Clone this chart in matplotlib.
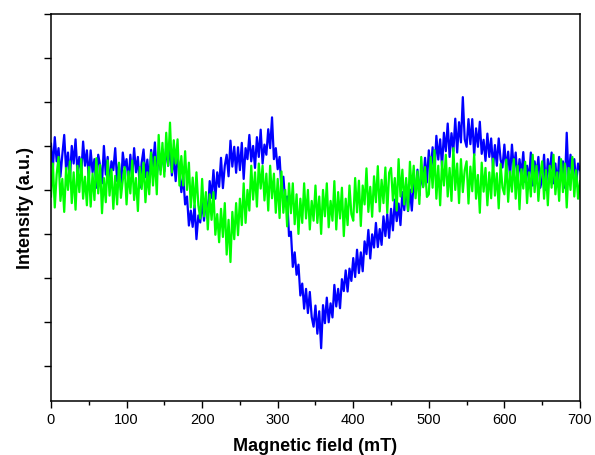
import numpy as np
import matplotlib.pyplot as plt

plt.rcParams['font.family'] = ['Liberation Sans', 'DejaVu Sans']

# field axis, 0..700 mT every 2.5 mT
field = np.arange(0, 700.1, 2.5)

# intensities (a.u., one y tick = 100)
blue = [
    105, 50, 120, 65, 95, 30, 80, 125, 45, 85, 25, 100, 60, 115, 40, 75, 35, 110, 55, 90,
    25, 90, 40, 70, 5, 80, 55, 15, 100, 35, 75, 10, 65, 45, 95, 20, 60, 0, 85, 50,
    70, 15, 80, 30, 95, 40, 75, 5, 62, 92, 29, 69, 16, 91, 53, 108, 30, 80, 45, 92,
    42, 99, 55, 105, 33, 77, 20, 75, 45, -5, 30, -33, -15, -81, -47, -84, -35, -112, -58, -74,
    -25, -70, -20, -65, 20, -18, 45, -20, 40, 7, 73, 4, 55, 80, 31, 112, 53, 98, 39, 97,
    45, 107, 25, 95, 70, 125, 65, 100, 50, 120, 75, 137, 60, 103, 80, 138, 95, 165, 70, 95,
    47, 75, 0, 30, -27, -15, -105, -95, -175, -142, -193, -170, -240, -213, -270, -225, -280, -232, -289, -311,
    -263, -327, -276, -360, -262, -303, -245, -301, -258, -290, -216, -265, -225, -269, -203, -230, -183, -231, -179, -207,
    -155, -198, -136, -189, -142, -185, -117, -146, -91, -156, -101, -131, -75, -130, -89, -125, -60, -105, -55, -109,
    -43, -92, -22, -71, -31, -80, -5, -46, 13, -48, 1, -47, 21, -6, 46, -13, 37, 8, 73, 17,
    90, 38, 97, 37, 123, 69, 115, 53, 130, 88, 151, 75, 129, 88, 162, 85, 154, 108, 211, 115,
    98, 161, 104, 161, 78, 140, 98, 155, 82, 114, 66, 128, 75, 117, 50, 102, 55, 117, 69, 51,
    103, 45, 87, 30, 103, 47, 85, 17, 70, 33, 86, 18, 55, 20, 85, 10, 65, 35, 75, 5,
    25, 80, 0, 70, 35, 85, 15, 60, 10, 75, 30, 65, 5, 130, 20, 80, 35, 70, 15, 60,
    45,
]

green = [
    -15, 60, -40, 35, 75, -25, 25, -50, 50, 0, 65, -30, 40, -45, 55, -5, 70, -20, 30, -35,
    52, -38, 37, -23, 72, -8, 57, -53, 27, -28, 67, -13, 47, -43, 32, -33, 62, -18, 22, 52,
    -33, 42, -8, 67, -23, 27, -48, 52, 2, 62, -28, 40, -10, 85, 10, 75, -10, 125, 35, 107,
    30, 130, 55, 153, 40, 113, 60, 115, 10, 77, 10, 88, 0, 62, -40, 28, -40, 40, -35, -65,
    25, -60, -5, -90, -10, -68, -5, -102, -55, -119, -43, -107, -30, -147, -68, -164, -50, -112, -30, -103,
    -20, -80, 15, -75, 0, -47, 55, -22, 40, -38, 60, 3, 55, -24, 37, -47, 55, -19, 37, -52,
    25, -64, 42, -52, 0, -83, 15, -53, 15, -78, -10, -100, -20, -75, 15, -65, 0, -90, -25, -70,
    10, -75, -15, -100, 0, -60, 15, -85, -25, -70, 20, -90, -5, -65, 5, -105, -20, -80, 10, -55,
    -70, 27, -51, 21, -82, 10, -33, 49, -50, 7, -61, 31, -28, 54, -49, 23, -30, 51, -52, 39,
    50, -24, 27, -47, 70, -15, 46, -33, 27, -47, 64, -5, 55, -19, 42, -32, 75, 6, 52, -16,
    -10, 75, 5, 90, -20, 55, -35, 65, 10, 80, -15, 50, -25, 95, 0, 60, -30, 70, -5, 45,
    65, -31, 53, -3, 81, -20, 34, -52, 62, -4, 50, -35, 40, -19, 71, -13, 38, -42, 59, 5,
    -10, 69, -27, 42, -4, 70, -20, 55, -44, 47, 3, 64, -30, 40, -15, 80, -5, 55, -25, 35,
    65, -20, 45, -35, 55, 5, 80, -10, 40, -25, 70, -5, 60, -40, 50, 0, 75, -15, 45, -20,
    20,
]

fig = plt.figure(figsize=(5.95, 4.55), dpi=100)
ax = fig.add_axes([0.0857, 0.1187, 0.889, 0.8505])

ax.plot(field, blue, color='#0000ff', lw=1.6)
ax.plot(field, green, color='#00ff00', lw=1.6)

ax.set_xlim(0, 700)
ax.set_ylim(-480, 400)
ax.set_xticks(np.arange(0, 701, 100))
ax.set_xticks(np.arange(50, 700, 100), minor=True)
ax.set_yticks(np.arange(-400, 401, 100))
ax.set_yticklabels([])
ax.tick_params(direction='out', length=5, width=1, labelsize=10.5)
ax.tick_params(which='minor', direction='out', length=3, width=1)

for s in ax.spines.values():
    s.set_linewidth(1.1)

ax.set_xlabel('Magnetic field (mT)', fontsize=13, fontweight='bold', labelpad=8)
ax.set_ylabel('Intensity (a.u.)', fontsize=13, fontweight='bold', labelpad=4)

fig.savefig('out.png', dpi=100)
